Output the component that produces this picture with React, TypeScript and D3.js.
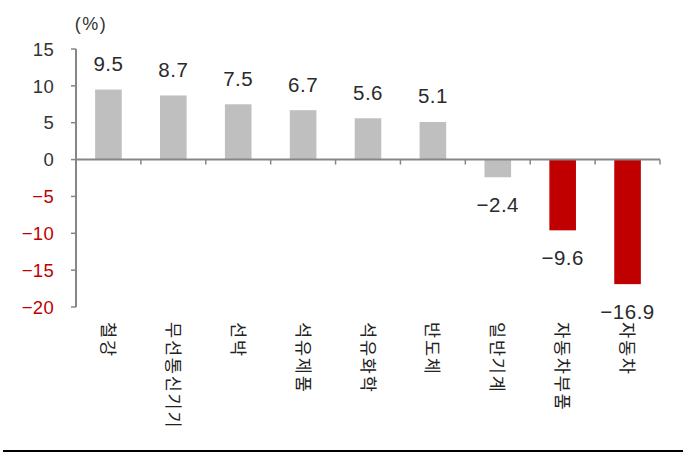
import React from "react";
import * as d3 from "d3";

const categories = ["철강", "무선통신기기", "선박", "석유제품", "석유화학", "반도체", "일반기계", "자동차부품", "자동차"];
const values = [9.5, 8.7, 7.5, 6.7, 5.6, 5.1, -2.4, -9.6, -16.9];
const highlighted = [false, false, false, false, false, false, false, true, true];
const yTicks = [15, 10, 5, 0, -5, -10, -15, -20];
const unitLabel = "(%)";

const W = 692;
const H = 454;
const left = 76;
const right = 660;
const top = 49;
const bottom = 307;

const fmt = (v: number) => (v < 0 ? "\u2212" + Math.abs(v).toFixed(1) : v.toFixed(1));
const fmtTick = (v: number) => (v < 0 ? "\u2212" + Math.abs(v) : String(v));

export default function App() {
  const x = d3.scaleBand<string>().domain(categories).range([left, right]).padding(0);
  const y = d3.scaleLinear().domain([-20, 15]).range([bottom, top]);
  const step = x.step();
  const bw = step * 0.41;
  const axisColor = "#868686";
  const numFont = "'Liberation Sans', Arial, sans-serif";
  const krFont = "'Noto Sans CJK KR', sans-serif";
  const boundaries = d3.range(categories.length + 1).map((i) => left + i * step);

  return (
    <svg width={W} height={H} style={{ position: "absolute", left: 0, top: 0, background: "#fff" }}>
      <text x={91} y={30} fontFamily={numFont} fontSize={18} letterSpacing={1.5} fill="#333" textAnchor="middle">
        {unitLabel}
      </text>
      {categories.map((c, i) => {
        const v = values[i];
        const cx = (x(c) as number) + step / 2;
        const y0 = y(0);
        const y1 = y(v);
        return (
          <g key={c}>
            <rect
              x={cx - bw / 2}
              y={Math.min(y0, y1)}
              width={bw}
              height={Math.abs(y1 - y0)}
              fill={highlighted[i] ? "#c00000" : "#bfbfbf"}
            />
            <text
              x={cx}
              y={v >= 0 ? y1 - 18.5 : y1 + 35}
              fontFamily={numFont}
              fontSize={20.5}
              letterSpacing={0.5}
              fill="#2a2a2a"
              textAnchor="middle"
            >
              {fmt(v)}
            </text>
            <text
              transform={`translate(${cx + 1},322) rotate(90)`}
              fontFamily={krFont}
              fontSize={17.5}
              letterSpacing={1.8}
              fill="#222"
              textAnchor="start"
              dominantBaseline="central"
            >
              {c}
            </text>
          </g>
        );
      })}
      {/* y axis */}
      <line x1={left} x2={left} y1={y(15)} y2={y(-20)} stroke={axisColor} strokeWidth={2} />
      {yTicks.map((t) => (
        <g key={t}>
          <line x1={left - 5} x2={left} y1={y(t)} y2={y(t)} stroke={axisColor} strokeWidth={1.5} />
          <text
            x={54}
            y={y(t)}
            dy="0.36em"
            fontFamily={numFont}
            fontSize={18.5}
            letterSpacing={0.3}
            fill={t < 0 ? "#c00000" : "#333"}
            textAnchor="end"
          >
            {fmtTick(t)}
          </text>
        </g>
      ))}
      {/* zero line */}
      <line x1={left} x2={right} y1={y(0)} y2={y(0)} stroke={axisColor} strokeWidth={2} />
      {boundaries.slice(1).map((bx, i) => (
        <line key={i} x1={bx} x2={bx} y1={y(0)} y2={y(0) + 5} stroke={axisColor} strokeWidth={1.5} />
      ))}
      {/* bottom rule */}
      <line x1={3} x2={683} y1={451} y2={451} stroke="#000" strokeWidth={2} />
    </svg>
  );
}
